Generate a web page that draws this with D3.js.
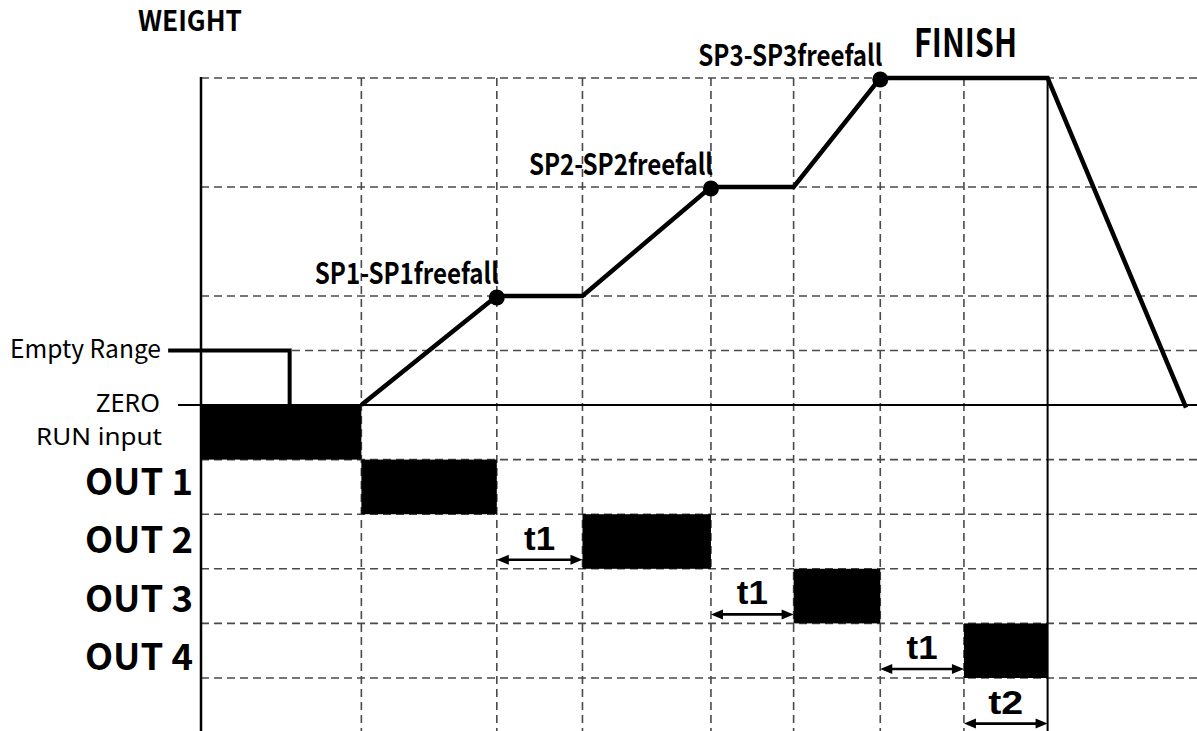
<!DOCTYPE html>
<html>
<head>
<meta charset="utf-8">
<script src="https://cdn.jsdelivr.net/npm/d3@7"></script>
<style>
  html, body { margin: 0; padding: 0; background: #fff; }
  svg { display: block; }
</style>
</head>
<body>
<svg id="chart" width="1197" height="731"></svg>
<script>
// ---- data -------------------------------------------------------------
// time positions of the dashed grid columns (arbitrary time units)
const gridTimes = [1.61, 2.97, 3.83, 5.12, 5.95, 6.82, 7.66];
const finishTime = 8.50;

// weight trace (time, weight level)
const weightTime  = [1.61, 2.97, 3.83, 5.12, 5.95, 6.82, 8.50, 9.89];
const weightValue = [0,    2,    2,    4,    4,    6,    6,    -0.05];

// weight levels shown as dashed guide lines
const weightLevels = [1, 2, 4, 6];

// empty-range threshold trace
const emptyTime  = [-0.33, 0.89, 0.89];
const emptyValue = [1, 1, 0];

// set-point markers
const spLabels = ["SP1-SP1freefall", "SP2-SP2freefall", "SP3-SP3freefall"];
const spTime   = [2.97, 5.12, 6.82];
const spValue  = [2, 4, 6];

// digital signal rows
const rowNames  = ["RUN input", "OUT 1", "OUT 2", "OUT 3", "OUT 4"];
const rowStart  = [0,    1.61, 3.83, 5.95, 7.66];
const rowEnd    = [1.61, 2.97, 5.12, 6.82, 8.50];

// delay intervals (row index = row whose lower edge carries the arrow)
const delayLabels = ["t1", "t1", "t1", "t2"];
const delayRow    = [2, 3, 4, 5];
const delayStart  = [2.97, 5.12, 6.82, 7.66];
const delayEnd    = [3.83, 5.95, 7.66, 8.50];

// ---- layout -----------------------------------------------------------
const W = 1197, H = 731;
const axisX = 201, topY = 78, zeroY = 405, rowH = 54.6;

const svg = d3.select("#chart");

const x = d3.scaleLinear().domain([0, 10]).range([axisX, W]);
const yW = d3.scaleLinear().domain([0, 6]).range([zeroY, topY]);
const yRow = d3.scaleLinear().domain([0, 5]).range([zeroY, zeroY + 5 * rowH]);

const gridColor = "#4a4a4a";
const labelFont = "'Noto Sans CJK KR', 'Noto Sans', sans-serif";
const smallFont = "'Noto Sans', sans-serif";

// ---- grid -------------------------------------------------------------
const grid = svg.append("g")
  .attr("stroke", gridColor)
  .attr("stroke-width", 1.6)
  .attr("stroke-dasharray", "8,5")
  .attr("fill", "none");

grid.selectAll("line.v")
  .data(gridTimes)
  .join("line")
  .attr("class", "v")
  .attr("x1", d => x(d)).attr("x2", d => x(d))
  .attr("y1", topY).attr("y2", H);

grid.selectAll("line.hw")
  .data(weightLevels)
  .join("line")
  .attr("class", "hw")
  .attr("x1", axisX).attr("x2", W)
  .attr("y1", d => yW(d)).attr("y2", d => yW(d));

grid.selectAll("line.hr")
  .data(d3.range(1, 6))
  .join("line")
  .attr("class", "hr")
  .attr("x1", axisX).attr("x2", W)
  .attr("y1", d => yRow(d)).attr("y2", d => yRow(d));

// ---- signal bars ------------------------------------------------------
svg.append("g")
  .selectAll("rect")
  .data(rowNames)
  .join("rect")
  .attr("x", (d, i) => x(rowStart[i]))
  .attr("width", (d, i) => x(rowEnd[i]) - x(rowStart[i]))
  .attr("y", (d, i) => yRow(i))
  .attr("height", (d, i) => yRow(i + 1) - yRow(i))
  .attr("fill", "#000");

// ---- axes -------------------------------------------------------------
// zero line (with short leader to the label)
svg.append("line")
  .attr("x1", 178).attr("x2", W)
  .attr("y1", yW(0)).attr("y2", yW(0))
  .attr("stroke", "#000").attr("stroke-width", 2);

// vertical weight axis
svg.append("line")
  .attr("x1", axisX).attr("x2", axisX)
  .attr("y1", topY - 1).attr("y2", H)
  .attr("stroke", "#000").attr("stroke-width", 2.5);

// finish marker line
svg.append("line")
  .attr("x1", x(finishTime)).attr("x2", x(finishTime))
  .attr("y1", topY).attr("y2", H)
  .attr("stroke", "#000").attr("stroke-width", 2);

// ---- traces -----------------------------------------------------------
const line = d3.line().x(d => x(d[0])).y(d => yW(d[1]));

svg.append("path")
  .datum(emptyTime.map((t, i) => [t, emptyValue[i]]))
  .attr("d", line)
  .attr("fill", "none")
  .attr("stroke", "#000")
  .attr("stroke-width", 4);

svg.append("path")
  .datum(weightTime.map((t, i) => [t, weightValue[i]]))
  .attr("d", line)
  .attr("fill", "none")
  .attr("stroke", "#000")
  .attr("stroke-width", 4.5)
  .attr("stroke-linejoin", "miter");

svg.append("g")
  .selectAll("circle")
  .data(spLabels)
  .join("circle")
  .attr("cx", (d, i) => x(spTime[i]))
  .attr("cy", (d, i) => yW(spValue[i]) + 1.5)
  .attr("r", 8)
  .attr("fill", "#000");

svg.append("g")
  .selectAll("text")
  .data(spLabels)
  .join("text")
  .attr("x", (d, i) => x(spTime[i]) + 2)
  .attr("y", (d, i) => yW(spValue[i]) - 12)
  .attr("text-anchor", "end")
  .attr("font-family", labelFont)
  .attr("font-weight", "bold")
  .attr("font-size", 29)
  .attr("textLength", 184)
  .attr("lengthAdjust", "spacingAndGlyphs")
  .text(d => d);

// ---- delay arrows -----------------------------------------------------
const arrowG = svg.append("g");
const head = 12, half = 5;
delayLabels.forEach((lab, i) => {
  const x0 = x(delayStart[i]), x1 = x(delayEnd[i]);
  const yy = yRow(delayRow[i] + 1) - 9;
  arrowG.append("line")
    .attr("x1", x0 + 4).attr("x2", x1 - 4)
    .attr("y1", yy).attr("y2", yy)
    .attr("stroke", "#000").attr("stroke-width", 2.6);
  const p = d3.path();
  p.moveTo(x0, yy); p.lineTo(x0 + head, yy - half); p.lineTo(x0 + head, yy + half); p.closePath();
  p.moveTo(x1, yy); p.lineTo(x1 - head, yy - half); p.lineTo(x1 - head, yy + half); p.closePath();
  arrowG.append("path").attr("d", p.toString()).attr("fill", "#000");
  arrowG.append("text")
    .attr("x", (x0 + x1) / 2)
    .attr("y", yy - 10)
    .attr("text-anchor", "middle")
    .attr("font-family", "'Liberation Sans', Arial, sans-serif")
    .attr("font-weight", "bold")
    .attr("font-size", 34)
    .attr("textLength", lab === "t2" ? 35 : 31)
    .attr("lengthAdjust", "spacingAndGlyphs")
    .text(lab);
});

// ---- labels -----------------------------------------------------------
svg.append("text")
  .attr("x", 138).attr("y", 31)
  .attr("font-family", labelFont).attr("font-weight", "bold")
  .attr("font-size", 28)
  .attr("textLength", 104).attr("lengthAdjust", "spacingAndGlyphs")
  .text("WEIGHT");

svg.append("text")
  .attr("x", 914).attr("y", 57)
  .attr("font-family", labelFont).attr("font-weight", "bold")
  .attr("font-size", 39)
  .attr("textLength", 103).attr("lengthAdjust", "spacingAndGlyphs")
  .text("FINISH");

svg.append("text")
  .attr("x", 161).attr("y", yW(1) + 7)
  .attr("text-anchor", "end")
  .attr("font-family", labelFont).attr("font-size", 25)
  .attr("textLength", 151).attr("lengthAdjust", "spacingAndGlyphs")
  .text("Empty Range");

svg.append("text")
  .attr("x", 160).attr("y", yW(0) + 7)
  .attr("text-anchor", "end")
  .attr("font-family", smallFont).attr("font-size", 25)
  .attr("textLength", 64).attr("lengthAdjust", "spacingAndGlyphs")
  .text("ZERO");

const rowBaselineShift = [13, 8, 11, 16, 19];
svg.append("g")
  .selectAll("text")
  .data(rowNames)
  .join("text")
  .attr("x", (d, i) => i === 0 ? 162 : 193)
  .attr("y", (d, i) => (yRow(i) + yRow(i + 1)) / 2 + rowBaselineShift[i])
  .attr("text-anchor", "end")
  .attr("font-family", (d, i) => i === 0 ? smallFont : labelFont)
  .attr("font-weight", (d, i) => i === 0 ? "normal" : "bold")
  .attr("font-size", (d, i) => i === 0 ? 24 : 36)
  .attr("textLength", (d, i) => i === 0 ? 126 : 108)
  .attr("lengthAdjust", "spacingAndGlyphs")
  .text(d => d);
</script>
</body>
</html>
